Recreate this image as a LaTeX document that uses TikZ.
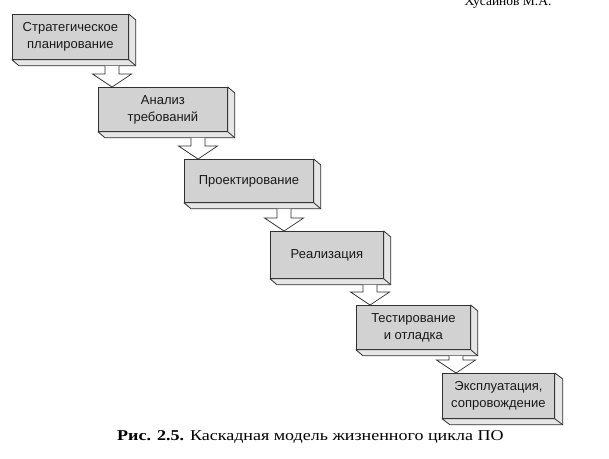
\documentclass[tikz,border=0pt]{standalone}
\usepackage{fontspec}
\setmainfont{Liberation Serif}
\newfontfamily\boxfont{Liberation Sans}
\usetikzlibrary{calc}
\definecolor{frontgray}{HTML}{D2D2D2}
\definecolor{sidegray}{HTML}{E6E6E6}
\definecolor{edgegray}{HTML}{303030}
\tikzset{
  frontbox/.style={draw=edgegray, fill=frontgray, line width=0.8pt, anchor=north west,
    inner sep=0pt, align=center, font=\boxfont\fontsize{13}{17}\selectfont, text=black!90},
  sideface/.style={draw=edgegray, fill=sidegray, line width=0.8pt, line join=round},
  blockarrow/.style={draw=edgegray, fill=white, line width=0.7pt, line join=miter},
}
\newcommand{\mybox}[7]{%
  \node[frontbox, minimum width=#4pt, minimum height=#5pt] (#1) at (#2,#3) {#6};
  \filldraw[sideface] (#1.north east) -- ++(#7,6) -- ($(#1.south east)+(#7,6)$)
    -- ($(#1.south west)+(#7,6)$) -- (#1.south west) -- (#1.south east) -- cycle;
  \draw[sideface] (#1.south east) -- ++(#7,6);
}
\newcommand{\myarrow}[2]{%
  \filldraw[blockarrow] let \p1=($(#2.north west)+(14,0)$), \p2=($(#1.south)+(0,6)$) in
    (\x1-7pt,\y2) -- (\x1-7pt,\y1+13pt) -- (\x1-19.5pt,\y1+13pt) -- (\x1,\y1)
    -- (\x1+19.5pt,\y1+13pt) -- (\x1+7pt,\y1+13pt) -- (\x1+7pt,\y2);
}
\begin{document}
\begin{tikzpicture}[x=1pt,y=-1pt]
\useasboundingbox (0,0) rectangle (609,458);
\fill[white] (0,0) rectangle (609,458);
\node[anchor=base, font=\fontsize{13.5}{15}\selectfont] (author) at (508,5) {Хусаинов М.А.};
\mybox{b1}{12}{14}{116}{45}{Стратегическое\\планирование}{7}
\mybox{b2}{98}{87}{129}{44}{Анализ\\требований}{7}
\mybox{b3}{184}{159}{129}{43}{Проектирование}{7}
\mybox{b4}{270}{231}{113}{47}{Реализация}{7}
\mybox{b5}{356}{305}{114}{44}{Тестирование\\и отладка}{7}
\mybox{b6}{442}{373}{112}{45}{Эксплуатация,\\сопровождение}{8}
\myarrow{b1}{b2}
\myarrow{b2}{b3}
\myarrow{b3}{b4}
\myarrow{b4}{b5}
\myarrow{b5}{b6}
\node[anchor=base west, font=\fontsize{15}{18}\selectfont, inner sep=0pt] (caption) at (117,440)
  {\scalebox{1.2}[1]{\textbf{Рис. 2.5.} Каскадная модель жизненного цикла ПО}};
\end{tikzpicture}
\end{document}
